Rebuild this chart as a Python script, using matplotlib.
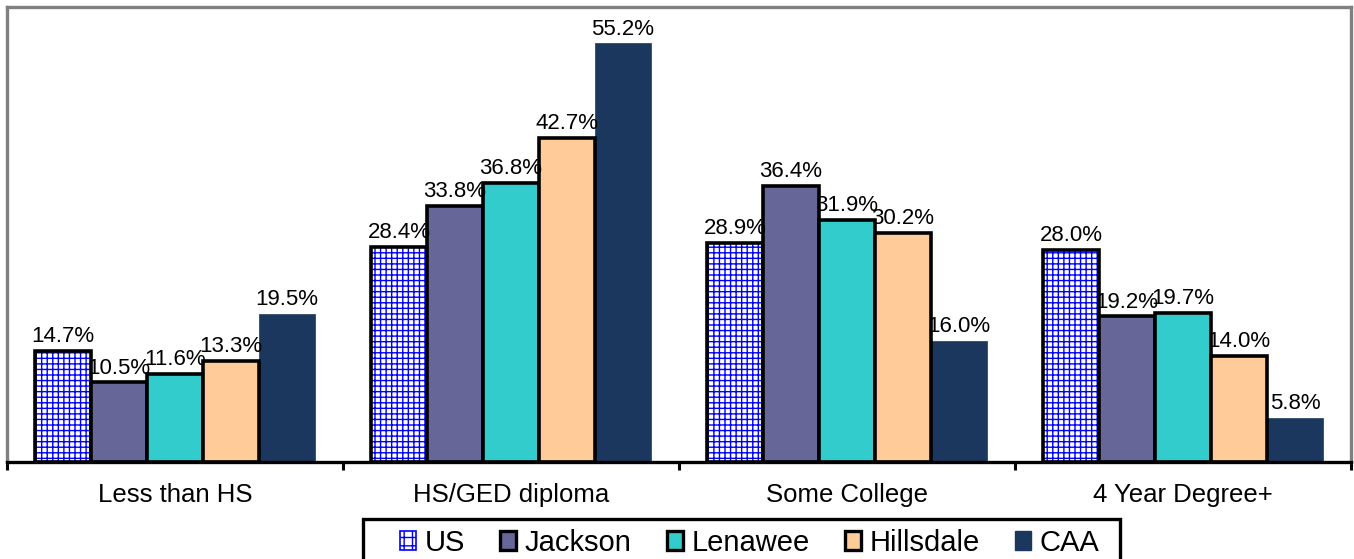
import matplotlib
matplotlib.use("Agg")
import matplotlib.pyplot as plt
from matplotlib.patches import Patch, Rectangle
import numpy as np

plt.rcParams["font.family"] = ["Liberation Sans", "DejaVu Sans"]
plt.rcParams["hatch.linewidth"] = 1.0

categories = ["Less than HS", "HS/GED diploma", "Some College", "4 Year Degree+"]
series_names = ["US", "Jackson", "Lenawee", "Hillsdale", "CAA"]
us = [14.7, 28.4, 28.9, 28.0]
jackson = [10.5, 33.8, 36.4, 19.2]
lenawee = [11.6, 36.8, 31.9, 19.7]
hillsdale = [13.3, 42.7, 30.2, 14.0]
caa = [19.5, 55.2, 16.0, 5.8]
series_values = [us, jackson, lenawee, hillsdale, caa]

face_colors = ["white", "#666699", "#33CCCC", "#FFCC99", "#1B375D"]

W, H = 1354, 559
fig = plt.figure(figsize=(W / 100, H / 100), dpi=100)
ax = fig.add_axes([7 / W, 1 - 462 / H, (1351 - 7) / W, (462 - 7) / H])

n = len(series_names)
width = 1 / (n + 1)
x = np.arange(len(categories)) + 0.5

for i, (name, vals) in enumerate(zip(series_names, series_values)):
    pos = x + (i - (n - 1) / 2) * width
    if name == "US":
        # blue grid fill, then a black outline on top
        ax.bar(pos, vals, width, color="white", edgecolor="#0000FF",
               hatch="+++", linewidth=0, zorder=2)
        ax.bar(pos, vals, width, fill=False, edgecolor="black",
               linewidth=2.6, zorder=3)
    elif name == "CAA":
        ax.bar(pos, vals, width, color=face_colors[i], edgecolor="#2E4A70",
               linewidth=0.6, zorder=2)
    else:
        ax.bar(pos, vals, width, color=face_colors[i], edgecolor="black",
               linewidth=2.6, zorder=3)
    for px, v in zip(pos, vals):
        ax.text(px, v + 0.5, f"{v:.1f}%", ha="center", va="bottom",
                fontsize=16, color="black", zorder=4)

ax.set_xlim(0, len(categories))
ax.set_ylim(0, 60)

# group boundaries carry the tick marks, centers carry the labels
ax.set_xticks(np.arange(len(categories) + 1))
ax.set_xticklabels([])
ax.set_xticks(x, minor=True)
ax.set_xticklabels(categories, minor=True, fontsize=18.5)
ax.tick_params(axis="x", which="major", direction="out", length=6, width=2.2, color="black")
ax.tick_params(axis="x", which="minor", length=0, pad=15)
ax.set_yticks([])

for side in ["left", "top", "right"]:
    ax.spines[side].set_color("#808080")
    ax.spines[side].set_linewidth(2.4)
ax.spines["bottom"].set_color("black")
ax.spines["bottom"].set_linewidth(2.4)
ax.spines["bottom"].set_zorder(5)

handles = []
for i, name in enumerate(series_names):
    if name == "US":
        handles.append(Patch(facecolor="white", edgecolor="#0000FF", hatch="++", linewidth=1.2))
    elif name == "CAA":
        handles.append(Patch(facecolor=face_colors[i], edgecolor=face_colors[i]))
    else:
        handles.append(Patch(facecolor=face_colors[i], edgecolor="black", linewidth=2.4))

leg = fig.legend(handles, series_names, loc="center left",
                 bbox_to_anchor=(400 / W, 1 - 543 / H), ncol=5,
                 fontsize=21, frameon=False,
                 handlelength=0.55, handleheight=0.65, handletextpad=0.3,
                 columnspacing=1.2, borderpad=0, borderaxespad=0)

# legend frame, running past the bottom edge of the figure
fig.patches.append(Rectangle((363 / W, -0.05), (1120 - 363) / W, 0.05 + (559 - 519) / H,
                             transform=fig.transFigure, fill=False,
                             edgecolor="black", linewidth=2.4, zorder=0))

fig.savefig("out.png", dpi=100)
